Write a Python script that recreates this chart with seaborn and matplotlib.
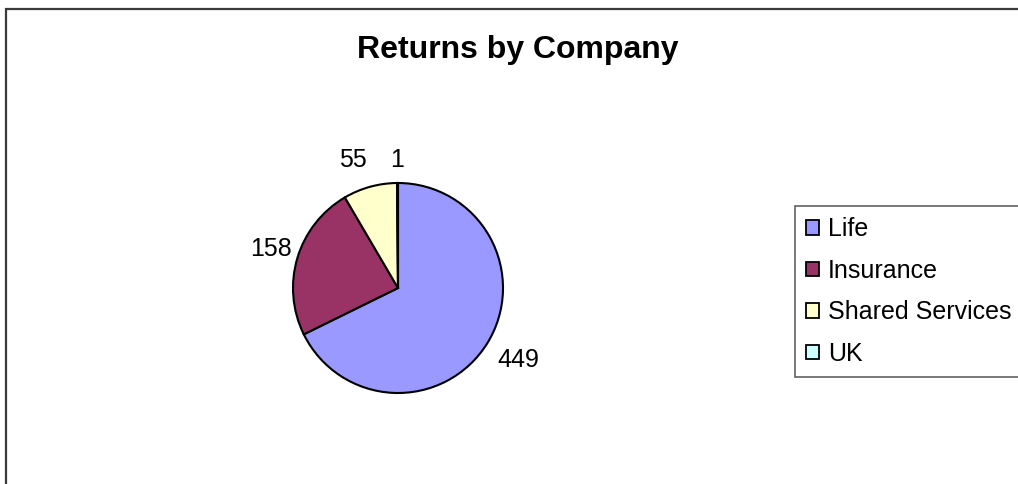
import numpy as np
import matplotlib
matplotlib.use("Agg")
import matplotlib.pyplot as plt
from matplotlib.patches import Rectangle
import seaborn as sns

# Returns per company
companies = ["Life", "Insurance", "Shared Services", "UK"]
returns = [449, 158, 55, 1]
slice_colors = ["#9999FF", "#993366", "#FFFFCC", "#CCFFFF"]

# value-label placement per slice: (distance in radii, angle nudge in degrees)
label_place = [(1.34, 1.0), (1.265, -0.4), (1.29, 4.0), (1.22, 0.0)]

sns.set_theme(style="white")
plt.rcParams["font.family"] = ["Liberation Sans", "DejaVu Sans"]
plt.rcParams["text.color"] = "black"

W, H = 1018, 484
fig = plt.figure(figsize=(W / 100, H / 100), dpi=100)
fig.patch.set_facecolor("white")

# chart frame (top and left edges show; it runs past the right and bottom)
fig.add_artist(Rectangle((6 / W, -0.2), 1.2, 1.2 - 9 / H,
                         transform=fig.transFigure, fill=False,
                         edgecolor="#3a3a3a", linewidth=1.6))

# pie axes: centre (398, 288) px, radius 105 px
cx, cy, r = 398, 288, 105
ax = fig.add_axes([(cx - r) / W, (H - cy - r) / H, 2 * r / W, 2 * r / H])

total = sum(returns)
wedges, _, autotexts = ax.pie(
    returns,
    colors=slice_colors,
    startangle=90,
    counterclock=False,
    radius=1.0,
    wedgeprops=dict(edgecolor="black", linewidth=1.5),
    autopct=lambda p: f"{round(p * total / 100)}",
    pctdistance=1.28,
    textprops=dict(fontsize=18, color="black"),
)
for w, t, (dist, nudge) in zip(wedges, autotexts, label_place):
    mid = np.deg2rad((w.theta1 + w.theta2) / 2 + nudge)
    t.set_position((dist * np.cos(mid), dist * np.sin(mid)))

ax.set_xlim(-1, 1)
ax.set_ylim(-1, 1)
ax.axis("off")

fig.text(518 / W, 1 - 58 / H, "Returns by Company", ha="center",
         va="baseline", fontsize=23, fontweight="bold", color="black")

leg = fig.legend(
    wedges, companies,
    loc="upper left",
    bbox_to_anchor=(795 / W, 1 - 206 / H),
    borderaxespad=0,
    fontsize=18,
    labelcolor="black",
    frameon=True,
    fancybox=False,
    shadow=False,
    handlelength=0.52,
    handleheight=0.52,
    handletextpad=0.36,
    borderpad=0.45,
    labelspacing=0.70,
)
leg.get_frame().set_edgecolor("#3a3a3a")
leg.get_frame().set_linewidth(1.2)
for h in leg.legend_handles:
    h.set_linewidth(1.3)

fig.savefig("out.png", dpi=100, facecolor="white")
